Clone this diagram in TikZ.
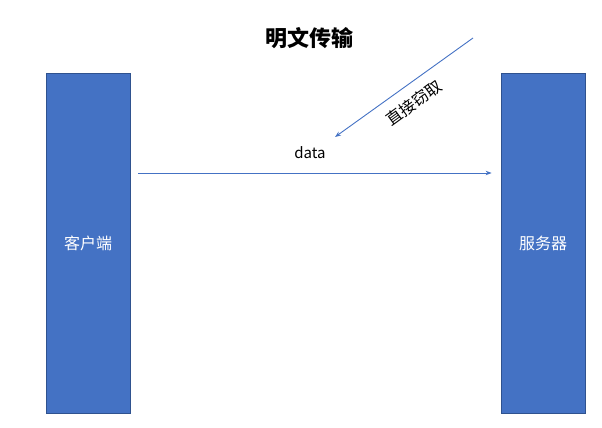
\documentclass[tikz,border=0pt]{standalone}
\usepackage{fontspec}
\setmainfont{Noto Sans CJK SC}
\usepackage{tikz}
\usetikzlibrary{positioning,arrows.meta}
\definecolor{boxblue}{HTML}{4472C4}
\definecolor{boxedge}{HTML}{2F528F}

\begin{document}
\begin{tikzpicture}[x=1pt, y=-1pt]
				% Define styles for boxes
				\tikzset{
					box/.style={
						rectangle,
						draw=boxedge,
						fill=boxblue,
						line width=0.8pt,
						minimum width=84pt,
						minimum height=340pt,
						text=white,
						font=\fontsize{16}{18}\selectfont,
						inner sep=0pt
					},
					flow/.style={
						draw=boxblue,
						line width=0.9pt,
						-{Stealth[length=6pt,width=4.5pt]}
					}
				}
				\useasboundingbox (0,0) rectangle (602,428);
				\node[box] (client) at (88,243) {客户端};
				\node[box] (server) at (543,243) {服务器};
				
				% Texts
				\node[font=\fontsize{22}{24}\selectfont\bfseries] (title) at (309,38) {明文传输};
				\node[font=\fontsize{15}{17}\selectfont] (data) at (310,153) {data};
				
				% Arrow from client to server
				\draw[flow, shorten <=8pt, shorten >=9pt] ([yshift=70pt]client.east) -- ([yshift=70pt]server.west);
				
				% stealing arrow
				\coordinate (spy) at (473,38);
				\coordinate (grab) at (335,137);
				\draw[flow] (spy) -- (grab);
				\node[font=\fontsize{16}{18}\selectfont, rotate=36] (steal) at (414,103) {直接窃取};
			\end{tikzpicture}
\end{document}
